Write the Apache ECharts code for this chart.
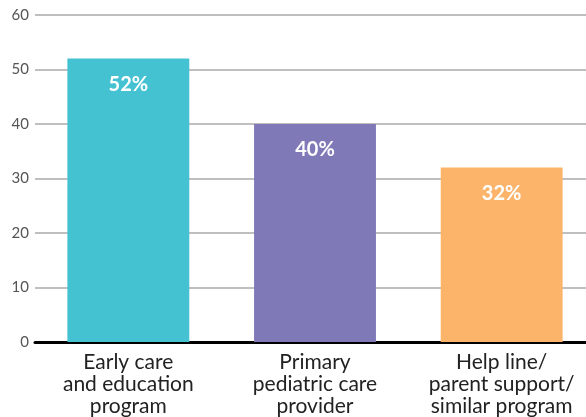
<!DOCTYPE html>
<html><head><meta charset="utf-8">
<script src="https://cdn.jsdelivr.net/npm/echarts@6/dist/echarts.min.js"></script>
<style>html,body{margin:0;padding:0;background:#fff;overflow:hidden}#c{width:595px;height:417px}</style>
</head><body><div id="c"></div>
<script>
const categories = ['Early care\nand education\nprogram', 'Primary\npediatric care\nprovider', 'Help line/\nparent support/\nsimilar program'];
const values = [52, 40, 32];
const colors = ['#45C2D2', '#8079B7', '#FBB46A'];
const yTicks = [0, 60, 10];

const chart = echarts.init(document.getElementById('c'));
chart.setOption({
  animation: false,
  grid: { left: 35, right: 0, top: 15, bottom: 75, containLabel: false },
  xAxis: {
    type: 'category', data: categories,
    axisLine: { show: true, lineStyle: { color: '#000', width: 3 } },
    axisTick: { show: false },
    axisLabel: { interval: 0, hideOverlap: false, color: '#222', fontSize: 21, lineHeight: 22, fontFamily: 'Lato', margin: 9 }
  },
  yAxis: {
    type: 'value', min: yTicks[0], max: yTicks[1], interval: yTicks[2],
    axisLine: { show: false }, axisTick: { show: false },
    axisLabel: { color: '#555', fontSize: 15, fontFamily: 'Lato', margin: 6 },
    splitLine: { lineStyle: { color: '#aaa', width: 1.5 } }
  },
  series: [{
    type: 'bar', barWidth: '65.3%',
    data: values.map((v, i) => ({ value: v, itemStyle: { color: colors[i] } })),
    label: { show: true, position: 'insideTop', distance: 16, color: '#fff', fontSize: 20, fontWeight: 'bold', fontFamily: 'Lato', formatter: '{c}%' }
  }]
});
</script></body></html>
